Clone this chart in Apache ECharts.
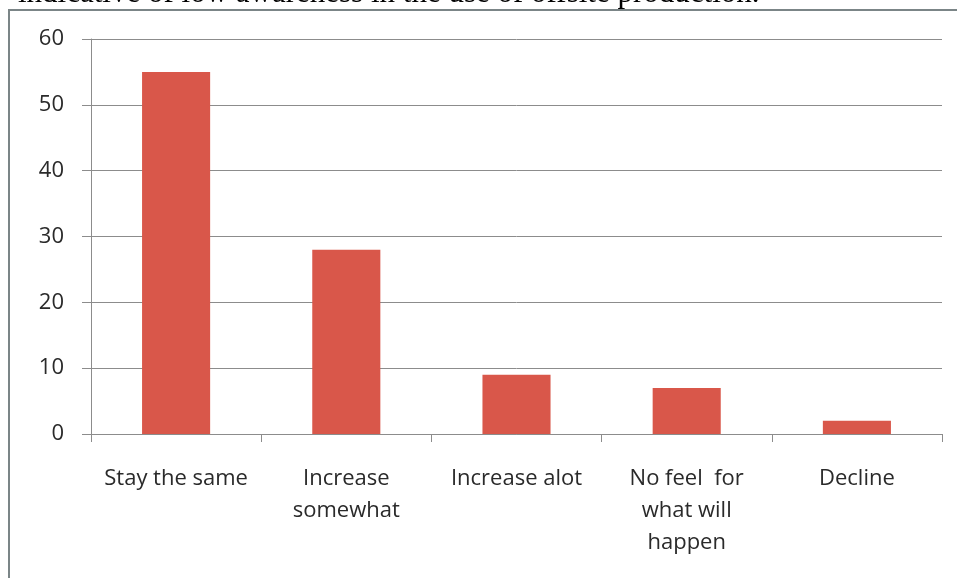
<!DOCTYPE html>
<html><head><meta charset="utf-8">
<script src="https://cdn.jsdelivr.net/npm/echarts@6/dist/echarts.min.js"></script>
<style>html,body{margin:0;padding:0;background:#fff}#c{width:957px;height:578px}</style>
</head><body><div id="c"></div>
<script>
const categories = ['Stay the same', 'Increase\nsomewhat', 'Increase alot', 'No feel  for\nwhat will\nhappen', 'Decline'];
const values = [55, 28, 9, 7, 2];
const yTicks = [0, 10, 20, 30, 40, 50, 60];
const caption = 'indicative of low awareness in the use of offsite production.';

const chart = echarts.init(document.getElementById('c'));
chart.setOption({
  animation: false,
  backgroundColor: '#fff',
  graphic: [
    { type: 'text', x: 18, y: -22, z: 0, style: { text: caption, font: '31px "Liberation Serif", "Times New Roman", serif', fill: '#000', verticalAlign: 'top' } },
    { type: 'line', shape: { x1: 8, y1: 10, x2: 957, y2: 10 }, z: 2, style: { stroke: '#7b8587', lineWidth: 2 } },
    { type: 'line', shape: { x1: 9, y1: 10, x2: 9, y2: 578 }, z: 2, style: { stroke: '#7b8587', lineWidth: 2 } }
  ],
  grid: { left: 91, right: 15, top: 39, bottom: 144 },
  xAxis: {
    type: 'category', data: categories,
    axisLine: { lineStyle: { color: '#8c8c8c', width: 1 } },
    axisTick: { show: true, length: 8, lineStyle: { color: '#8c8c8c' } },
    axisLabel: { interval: 0, color: '#2a2a2a', fontSize: 22, fontFamily: '"Open Sans", sans-serif', lineHeight: 32, margin: 29 }
  },
  yAxis: {
    type: 'value', min: yTicks[0], max: yTicks[yTicks.length - 1], interval: 10,
    axisLine: { show: true, lineStyle: { color: '#8c8c8c' } },
    axisTick: { show: true, length: 9, lineStyle: { color: '#8c8c8c' } },
    axisLabel: { color: '#2a2a2a', fontSize: 22, fontFamily: '"Open Sans", sans-serif', margin: 27 },
    splitLine: { lineStyle: { color: '#8c8c8c', width: 1 } }
  },
  series: [{
    type: 'bar', data: values, barWidth: '40%',
    itemStyle: { color: '#d9574a' }
  }]
});
</script></body></html>
